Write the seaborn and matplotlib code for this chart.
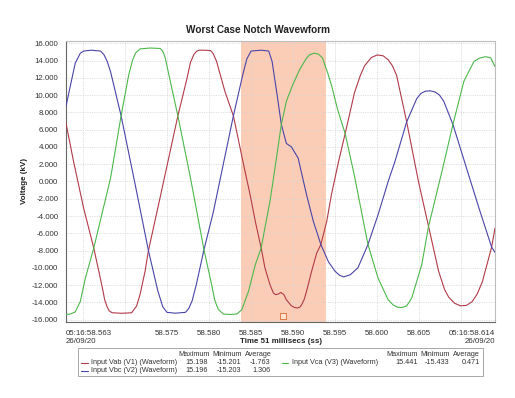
import numpy as np
import pandas as pd
import matplotlib
matplotlib.use("Agg")
import matplotlib.pyplot as plt
import seaborn as sns
from matplotlib.lines import Line2D
from matplotlib.patches import Rectangle

sns.set_theme(style="white")
plt.rcParams['font.family'] = ['Liberation Sans', 'DejaVu Sans']

# ---------------- data ----------------
start_seconds = 58.563          # 05:16:58.563
window_ms = 51

# Input Vab (V1) - time in ms after start, voltage in kV
vab_t = [0.0, 0.9, 2.1, 3.3, 4.3, 4.6, 4.9, 5.15, 5.5, 6.6, 7.8, 8.4, 8.8, 9.4, 9.8, 11.2,
         13.3, 14.4, 14.8, 15.2, 15.5, 15.8, 16.5, 17.2, 17.5, 17.9, 18.9, 19.9, 21.1,
         21.9, 22.5, 23.2, 23.65, 24.25, 24.65, 24.9, 25.2, 25.55, 25.9, 26.2, 26.8,
         27.2, 27.5, 27.8, 28.0, 28.3, 28.6, 29.2, 29.8, 30.3, 31.0, 31.55, 32.4, 33.2,
         34.3, 35.0, 35.5, 36.3, 37.0, 37.7, 38.3, 38.8, 39.3, 40.5, 41.9, 43.1, 44.3,
         45.0, 45.5, 46.2, 46.9, 47.6, 48.3, 48.9, 49.5, 50.6, 51.0]
vab_v = [6.75, 2.3, -3.1, -7.7, -12.2, -13.7, -14.55, -15.0, -15.2, -15.26, -15.2, -14.4,
         -13.1, -10.4, -8.0, -1.8, 7.6, 12.0, 13.8, 14.7, 15.05, 15.2, 15.2, 15.15, 14.8,
         13.9, 10.4, 7.6, 2.0, -1.6, -4.6, -7.7, -10.0, -11.96, -12.9, -13.1, -13.05,
         -12.85, -13.1, -13.7, -14.4, -14.6, -14.65, -14.55, -14.3, -13.7, -12.7, -10.4,
         -8.3, -7.3, -4.6, -1.55, 2.3, 5.6, 10.3, 12.3, 13.4, 14.35, 14.65, 14.55, 14.1,
         13.4, 12.3, 6.9, 0.0, -5.2, -10.4, -12.5, -13.4, -14.1, -14.4, -14.35, -13.9,
         -13.0, -11.6, -7.6, -5.4]

# Input Vbc (V2)
vbc_t = [0.0, 0.5, 1.1, 1.7, 2.1, 3.0, 4.1, 4.5, 4.9, 5.3, 6.55, 8.15, 9.8, 10.9, 11.5,
         12.0, 13.0, 14.2, 14.6, 15.0, 15.5, 16.4, 17.5, 18.7, 19.9, 21.0, 21.5, 22.0,
         23.2, 24.1, 24.5, 25.1, 25.6, 26.2, 26.8, 27.6, 28.6, 29.4, 30.3, 31.2, 32.0,
         32.5, 33.0, 33.8, 34.7, 35.9, 37.1, 38.3, 39.1, 40.5, 41.7, 42.2, 42.7, 43.3,
         43.9, 44.4, 44.9, 46.0, 47.5, 49.1, 50.6, 51.0]
vbc_v = [8.7, 11.0, 13.7, 14.85, 15.1, 15.2, 15.1, 14.7, 13.9, 12.7, 7.6, 0.0, -8.0,
         -12.6, -14.5, -15.15, -15.25, -15.15, -14.7, -13.8, -11.9, -7.9, -3.6, 2.0, 7.6,
         12.3, 14.2, 15.1, 15.2, 15.1, 13.9, 10.0, 6.6, 4.4, 4.0, 2.7, -1.55, -4.6, -7.3,
         -9.3, -10.4, -10.85, -11.05, -10.8, -10.0, -7.3, -3.85, 0.0, 2.3, 6.9, 9.6, 10.2,
         10.45, 10.5, 10.35, 10.0, 9.3, 6.6, 1.9, -3.1, -7.6, -8.2]

# Input Vca (V3)
vca_t = [0.0, 0.5, 1.1, 1.7, 2.3, 3.3, 5.3, 6.55, 7.45, 7.9, 8.25, 8.8, 10.0, 11.2, 11.5,
         11.8, 12.4, 13.3, 14.8, 16.4, 17.3, 17.7, 18.1, 18.7, 19.5, 20.3, 20.9, 21.7,
         22.5, 23.2, 24.3, 25.0, 25.6, 26.2, 27.0, 27.8, 28.6, 29.0, 29.5, 30.0, 30.5,
         31.2, 31.6, 32.3, 33.2, 34.3, 35.9, 37.1, 38.3, 38.9, 39.4, 39.9, 40.5, 41.1,
         42.3, 43.1, 44.7, 46.0, 47.3, 48.5, 49.2, 49.9, 50.5, 51.0]
vca_v = [-15.4, -15.35, -15.1, -13.9, -11.2, -7.7, 0.4, 7.6, 12.3, 14.0, 14.85, 15.35,
         15.45, 15.4, 15.1, 14.3, 11.6, 7.6, 0.4, -7.9, -11.9, -13.8, -14.8, -15.35, -15.4,
         -15.35, -14.85, -12.7, -9.65, -7.7, -2.0, 2.6, 6.6, 9.3, 11.3, 13.0, 14.3, 14.7,
         14.85, 14.75, 14.3, 12.3, 11.0, 8.3, 5.5, 0.6, -7.3, -11.2, -13.7, -14.3, -14.55,
         -14.6, -14.4, -13.5, -9.6, -5.2, 1.2, 6.6, 11.6, 13.9, 14.3, 14.45, 14.3, 13.3]

series_names = ["Input Vab (V1) (Waveform)", "Input Vbc (V2) (Waveform)",
                "Input Vca (V3) (Waveform)"]
series_colors = ["#b23a48", "#4a44a8", "#4cb84c"]

notch_start_ms = 20.8
notch_end_ms = 30.9
marker_time_ms = [25.85]
marker_value = [-15.6]

y_ticks = [-16, -14, -12, -10, -8, -6, -4, -2, 0, 2, 4, 6, 8, 10, 12, 14, 16]
x_tick_ms = [0, 2, 7, 12, 17, 22, 27, 32, 37, 42, 47, 51]
x_tick_labels = ["05:16:58.563\n26/09/20", "", "", "58.575", "58.580", "58.585",
                 "58.590", "58.595", "58.600", "58.605", "", "05:16:58.614\n26/09/20"]

legend_max = ["15.198", "15.196", "15.441"]
legend_min = ["-15.201", "-15.203", "-15.433"]
legend_avg = ["-1.763", "1.306", "0.471"]

title = "Worst Case Notch Wavewform"
x_label = "Time 51 millisecs (ss)"
y_label = "Voltage (kV)"

# ---------------- build frame ----------------
frames = []
for name, tt, vv in zip(series_names, [vab_t, vbc_t, vca_t], [vab_v, vbc_v, vca_v]):
    frames.append(pd.DataFrame({"time": start_seconds + np.array(tt) / 1000.0,
                                "voltage": vv, "series": name}))
df = pd.concat(frames, ignore_index=True)

W, H = 515, 398
fig = plt.figure(figsize=(W / 100, H / 100), dpi=100)
fig.patch.set_facecolor("white")

def fx(x):
    return x / W

def fy(y):
    return 1 - y / H

ax_l, ax_r, ax_t, ax_b = 66, 495, 41.3, 322
ax = fig.add_axes([fx(ax_l), fy(ax_b), (ax_r - ax_l) / W, (ax_b - ax_t) / H])
ax.set_facecolor("white")

ax.axvspan(start_seconds + notch_start_ms / 1000, start_seconds + notch_end_ms / 1000,
           color="#fbcdb7", lw=0, zorder=0)

sns.lineplot(data=df, x="time", y="voltage", hue="series", palette=series_colors,
             hue_order=series_names, estimator=None, sort=False, linewidth=0.8,
             legend=False, ax=ax, zorder=3)

sns.scatterplot(x=start_seconds + np.array(marker_time_ms) / 1000, y=marker_value,
                marker="s", s=14, color="#fde3d2", edgecolor="#e07a45", linewidth=0.7,
                ax=ax, zorder=4, legend=False)

ax.set_xlim(start_seconds, start_seconds + window_ms / 1000)
ax.set_ylim(-16.27, 16.23)

ax.set_yticks(y_ticks)
ax.set_yticklabels([f"{v:.3f}" for v in y_ticks])
ax.set_xticks([start_seconds + m / 1000 for m in x_tick_ms])
ax.set_xticklabels(x_tick_labels)

ax.grid(True, color="#d4d4d4", linestyle=(0, (1.2, 1.6)), linewidth=0.6)
ax.set_axisbelow(True)
ax.set_xlabel("")
ax.set_ylabel("")

for s in ["left", "bottom"]:
    ax.spines[s].set_color("#666666")
    ax.spines[s].set_linewidth(0.8)
for s in ["top", "right"]:
    ax.spines[s].set_color("#bdbdbd")
    ax.spines[s].set_linewidth(0.8)

ax.tick_params(axis="both", direction="out", length=3, width=0.6, color="#666666",
               labelsize=5.7, labelcolor="#333333", pad=2.5)
ax.tick_params(axis="x", pad=3)

labels = ax.get_xticklabels()
labels[0].set_horizontalalignment("left")
labels[0].set_multialignment("left")
labels[-1].set_horizontalalignment("right")
labels[-1].set_multialignment("right")

# titles and axis labels
fig.text(fx(257.5), fy(30), title, ha="center", va="center", fontsize=7.2,
         fontweight="bold", color="#222222")
fig.text(fx(280.5), fy(341.7), x_label, ha="center", va="center", fontsize=5.7,
         fontweight="bold", color="#222222")
fig.text(fx(24), fy(181), y_label, ha="center", va="center", fontsize=5.8,
         fontweight="bold", color="#222222", rotation=90)

# legend table
fig.add_artist(Rectangle((fx(78.3), fy(376)), (482.7 - 78.3) / W, (376 - 348.3) / H,
                         transform=fig.transFigure, facecolor="white",
                         edgecolor="#9a9a9a", linewidth=0.6))
lg_fs = 5.2
lg_col = "#333333"
headers = ["Maximum", "Minimum", "Average"]
groups = [
    {"rows": [0, 1], "line_x": (80.7, 88.3), "text_x": 90.7,
     "cols": [(209.3, 208.3), (241.7, 241.0), (271.7, 270.7)]},
    {"rows": [2], "line_x": (281.7, 288.3), "text_x": 291.7,
     "cols": [(417.7, 417.7), (450.0, 449.3), (480.0, 480.0)]},
]
row_y = [362.7, 370.7]
for g in groups:
    for h, (hx, _) in zip(headers, g["cols"]):
        fig.text(fx(hx), fy(354.3), h, ha="right", va="center", fontsize=lg_fs, color=lg_col)
    for k, idx in enumerate(g["rows"]):
        yy = row_y[k]
        fig.add_artist(Line2D([fx(g["line_x"][0]), fx(g["line_x"][1])], [fy(yy), fy(yy)],
                              transform=fig.transFigure, color=series_colors[idx], lw=0.8))
        fig.text(fx(g["text_x"]), fy(yy), series_names[idx], ha="left", va="center",
                 fontsize=lg_fs, color=lg_col)
        for val, (_, vx) in zip([legend_max[idx], legend_min[idx], legend_avg[idx]], g["cols"]):
            fig.text(fx(vx), fy(yy), val, ha="right", va="center", fontsize=lg_fs, color=lg_col)

fig.savefig("out.png", dpi=100, facecolor="white")
